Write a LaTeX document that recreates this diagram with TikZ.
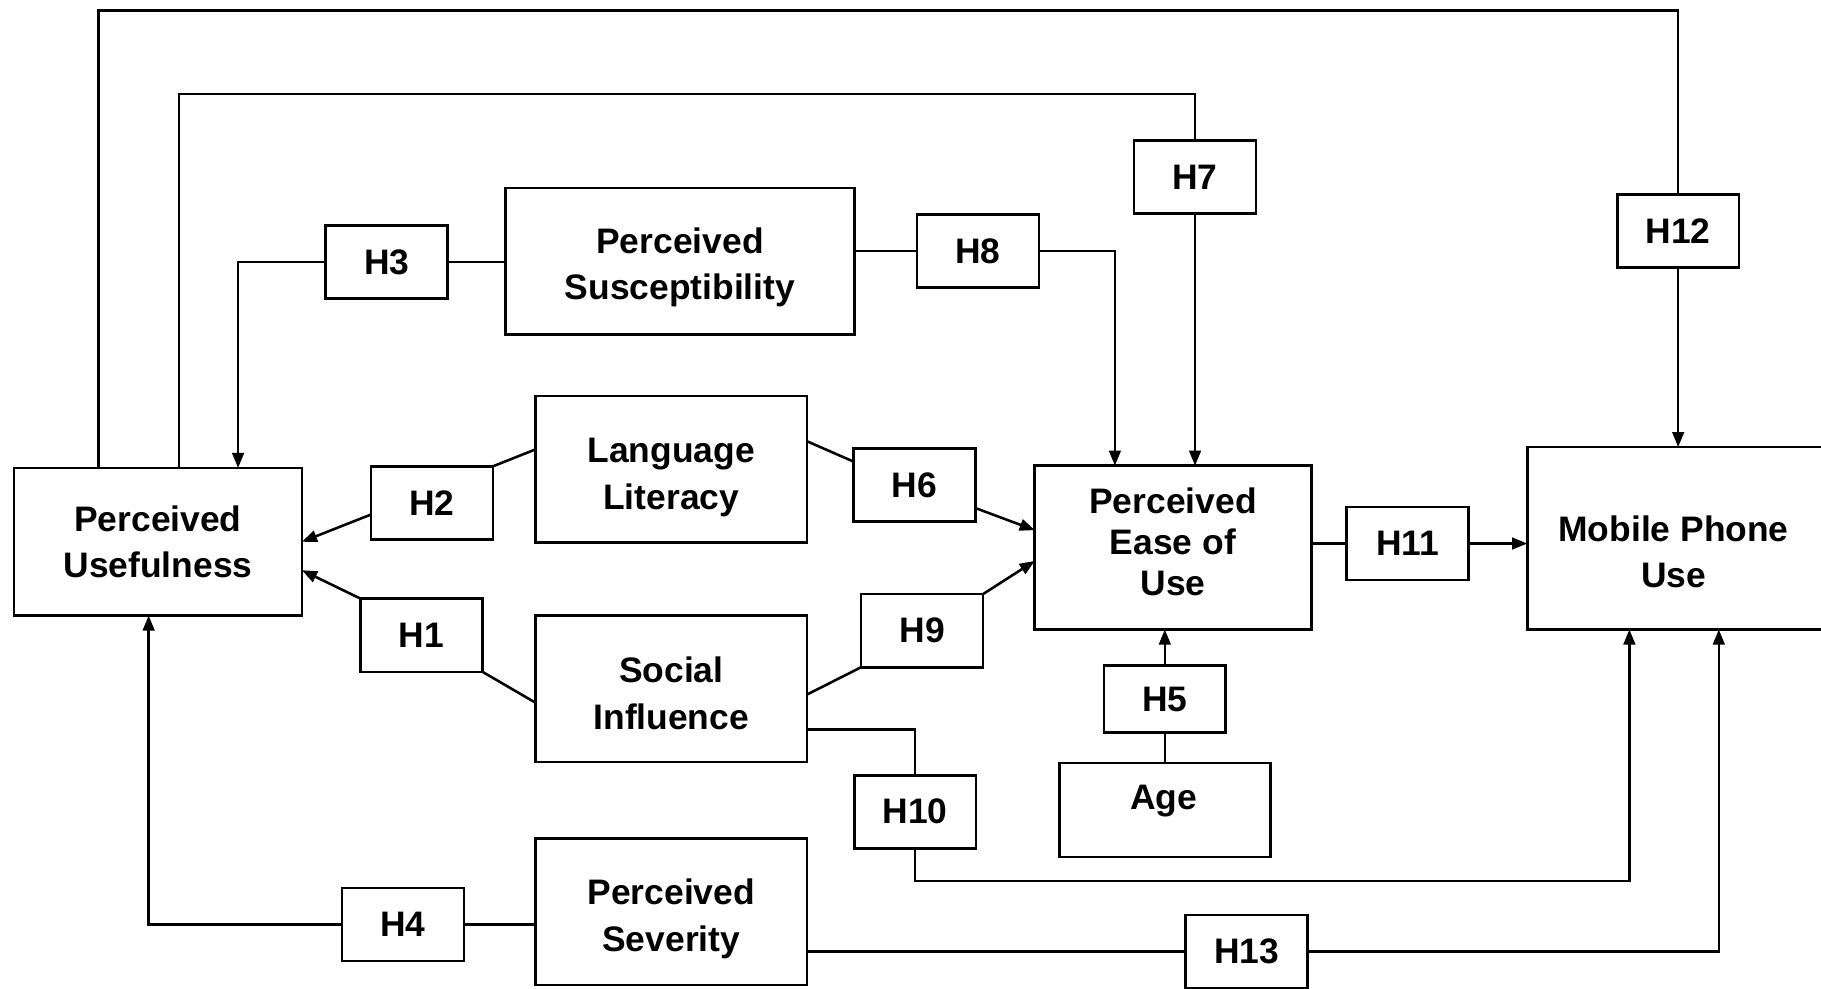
\documentclass[tikz,border=0pt]{standalone}
\usepackage{fontspec}
\setmainfont{Liberation Sans}
\usetikzlibrary{arrows.meta}
\newcommand{\diagfont}{\fontsize{30.5}{40}\selectfont\bfseries}
\begin{document}
\begin{tikzpicture}[x=1pt,y=-1pt,
  construct/.style={draw, line width=2.3pt, inner sep=0pt, outer sep=0pt},
  ctext/.style={align=center, font=\diagfont, inner sep=0pt},
  hyp/.style={draw, line width=2.3pt, minimum width=105pt, minimum height=63pt,
    inner sep=0pt, outer sep=0pt, font=\diagfont},
  link/.style={line width=2.2pt},
  arr/.style={link, -{Triangle[length=13pt,width=10pt]}},
]
\useasboundingbox (0,0) rectangle (1568,851);
\clip (0,0) rectangle (1568,851);

% constructs: frames
\node[construct, minimum width=248pt, minimum height=127pt] (pu) at (136,466.5) {};
\node[construct, minimum width=301pt, minimum height=126pt] (ps) at (585.5,225) {};
\node[construct, minimum width=234pt, minimum height=126pt] (ll) at (578,404) {};
\node[construct, minimum width=234pt, minimum height=126pt] (si) at (578,593) {};
\node[construct, minimum width=234pt, minimum height=126pt] (psev) at (578,785) {};
\node[construct, minimum width=238pt, minimum height=141pt] (peou) at (1010,471.5) {};
\node[construct, minimum width=257pt, minimum height=157pt, anchor=north west] (mpu) at (1315,385) {};
\node[construct, minimum width=182pt, minimum height=81pt] (age) at (1003,697.5) {};

% constructs: names
\node[ctext] (putext) at (136,466.5) {Perceived\\Usefulness};
\node[ctext] (pstext) at (585.5,230) {Perceived\\Susceptibility};
\node[ctext] (lltext) at (578,411) {Language\\Literacy};
\node[ctext] (sitext) at (578,597) {Social\\Influence};
\node[ctext] (psevtext) at (578,791) {Perceived\\Severity};
\node[ctext, font=\fontsize{30.5}{35}\selectfont\bfseries] (peoutext) at (1010,466.5) {Perceived\\Ease of\\Use};
\node[ctext] (mputext) at (1441,475) {Mobile Phone\\Use};
\node[ctext] (agetext) at (1002,690) {Age};

% hypothesis labels
\node[hyp] (h1) at (363,547) {H1};
\node[hyp] (h2) at (372,433) {H2};
\node[hyp] (h3) at (333,225.5) {H3};
\node[hyp] (h4) at (347,796) {H4};
\node[hyp, minimum height=58pt] (h5) at (1003,602) {H5};
\node[hyp] (h6) at (787.5,417.5) {H6};
\node[hyp] (h7) at (1029,152.5) {H7};
\node[hyp] (h8) at (842,216) {H8};
\node[hyp] (h9) at (794,543) {H9};
\node[hyp] (h10) at (788,699) {H10};
\node[hyp] (h11) at (1212,468) {H11};
\node[hyp] (h12) at (1445,199) {H12};
\node[hyp] (h13) at (1073.5,819.5) {H13};

% long loops over the top
\draw[link] ([xshift=73pt]pu.north west) -- ++(0,-394) -| (h12.north);
\draw[arr] (h12.south) -- (h12.south |- mpu.north);
\draw[link] ([xshift=142pt]pu.north west) -- ++(0,-322) -| (h7.north);
\draw[arr] (h7.south) -- (h7.south |- peou.north);

% perceived susceptibility
\draw[link] (ps.west |- h3.east) -- (h3.east);
\draw[arr] (h3.west) -| ([xshift=193pt]pu.north west);
\draw[link] (ps.east |- h8.west) -- (h8.west);
\draw[arr] (h8.east) -| ([xshift=69pt]peou.north west);

% language literacy
\draw[link] ([yshift=17pt]ll.west) -- (h2.north east);
\draw[arr] ([yshift=-10pt]h2.west) -- (pu.east);
\draw[link] ([yshift=24pt]ll.east) -- ([yshift=20pt]h6.west);
\draw[arr] ([yshift=-20pt]h6.east) -- ([yshift=15pt]peou.west);

% social influence
\draw[link] ([yshift=-12pt]si.west) -- (h1.south east);
\draw[arr] (h1.north west) -- ([yshift=-24.5pt]pu.east);
\draw[link] ([yshift=-5pt]si.east) -- (h9.south west);
\draw[arr] (h9.north east) -- ([yshift=-11.5pt]peou.west);
\draw[link] ([yshift=-35pt]si.east) -| (h10.north);
\draw[arr] (h10.south) -- ++(0,28) -| ([xshift=88pt]mpu.south west);

% age
\draw[link] (age.north) -- (h5.south);
\draw[arr] (h5.north) -- (h5.north |- peou.south);

% perceived severity
\draw[link] (psev.west |- h4.east) -- (h4.east);
\draw[arr] (h4.west) -| ([xshift=116pt]pu.south west);
\draw[link] (psev.east |- h13.west) -- (h13.west);
\draw[arr] (h13.east) -| ([xshift=165pt]mpu.south west);

% ease of use to phone use
\draw[link] (peou.east |- h11.west) -- (h11.west);
\draw[arr] (h11.east) -- (mpu.west |- h11.east);
\end{tikzpicture}
\end{document}
